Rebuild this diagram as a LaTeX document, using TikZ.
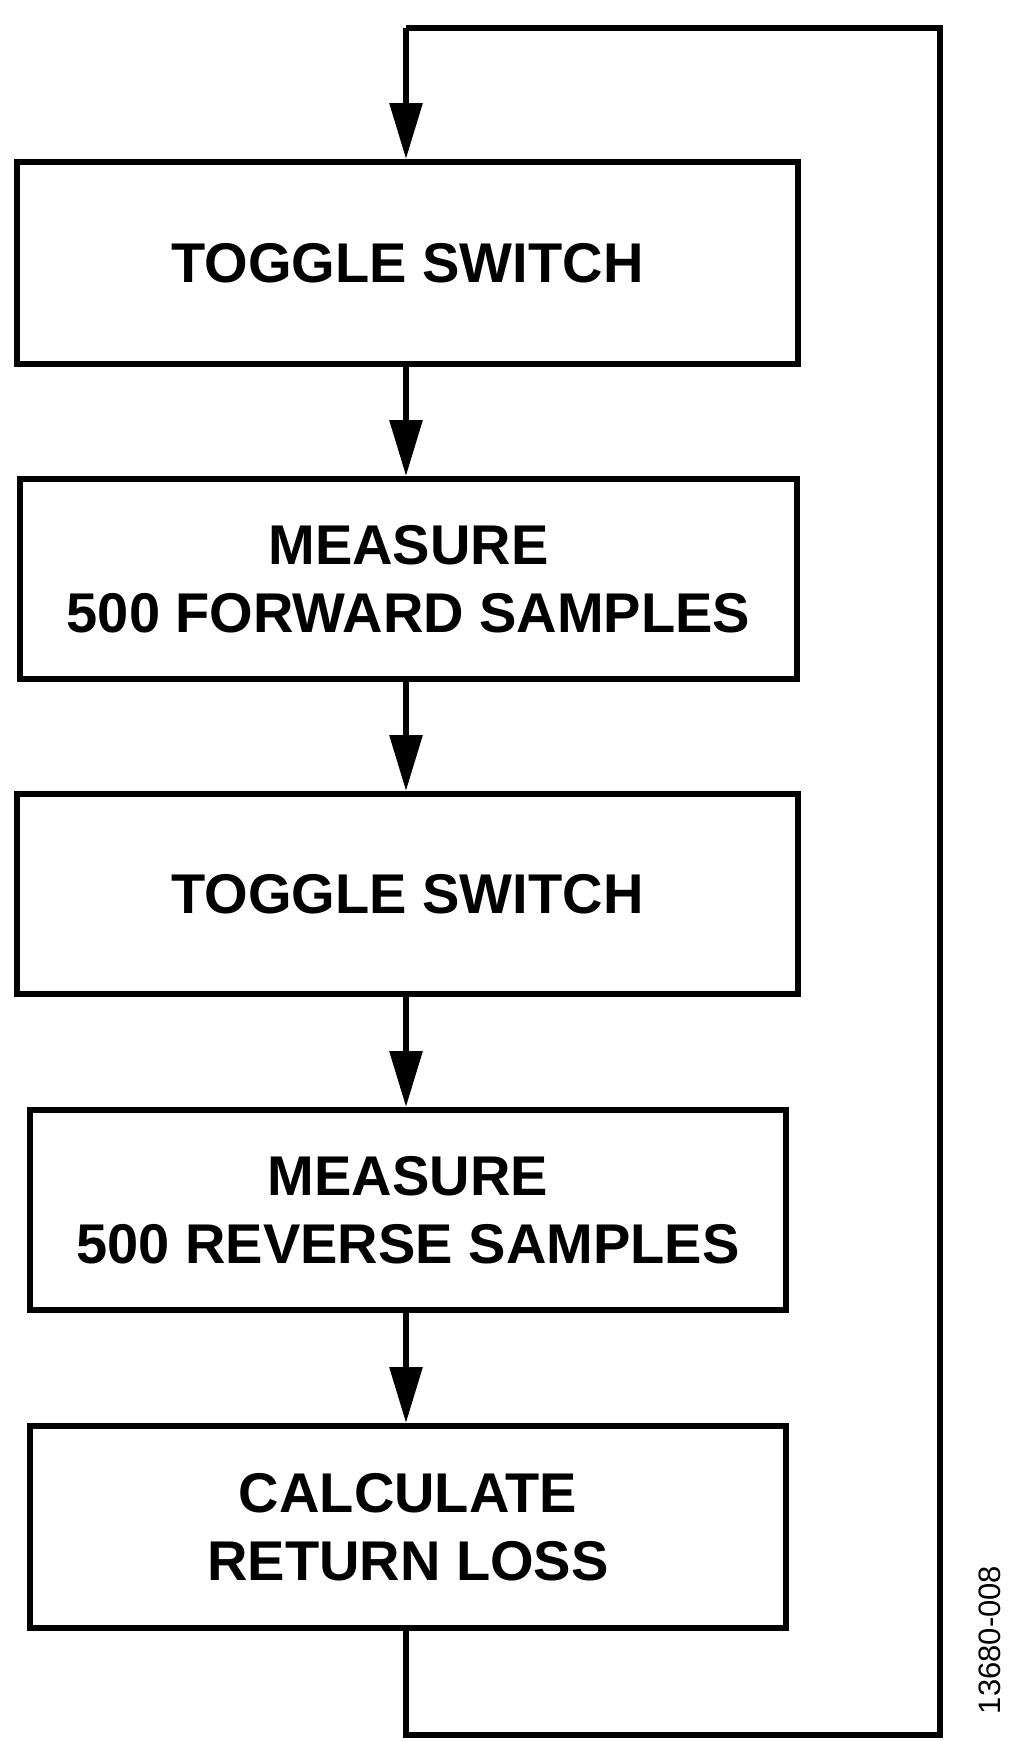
\documentclass[tikz,border=0pt]{standalone}
\usepackage{fontspec}
\setmainfont{Liberation Sans}
\usetikzlibrary{arrows.meta}
\begin{document}
\begin{tikzpicture}[x=1pt,y=-1pt,
  box/.style={draw,line width=6pt,minimum width=#1,inner sep=0pt,align=center,font=\fontsize{56}{68}\selectfont\bfseries},
  conn/.style={line width=6pt},
  arr/.style={conn,-{Triangle[length=56pt,width=32pt]}}]
\useasboundingbox (0,0) rectangle (1024,1741);
\node[box=781pt,minimum height=202pt] (b1) at (407.5,263) {TOGGLE SWITCH};
\node[box=777pt,minimum height=200pt] (b2) at (408.5,579) {MEASURE\\500 FORWARD SAMPLES};
\node[box=781pt,minimum height=200pt] (b3) at (407.5,894) {TOGGLE SWITCH};
\node[box=756pt,minimum height=200pt] (b4) at (408,1210) {MEASURE\\500 REVERSE SAMPLES};
\node[box=756pt,minimum height=202pt] (b5) at (408,1527) {CALCULATE\\RETURN LOSS};
\coordinate (c1) at (406,1735);
\coordinate (c2) at (940,1735);
\coordinate (c3) at (940,28);
\coordinate (c4) at (406,28);
\draw[arr] (b1.south -| 406,0) -- (b2.north -| 406,0);
\draw[arr] (b2.south -| 406,0) -- (b3.north -| 406,0);
\draw[arr] (b3.south -| 406,0) -- (b4.north -| 406,0);
\draw[arr] (b4.south -| 406,0) -- (b5.north -| 406,0);
\draw[conn] (b5.south -| 406,0) -- (c1) -- (c2) -- (c3) -- (c4);
\draw[arr] (c4) -- (b1.north -| 406,0);
\node[rotate=90,font=\fontsize{31}{31}\selectfont] (lbl) at (990,1640) {13680-008};
\end{tikzpicture}
\end{document}
